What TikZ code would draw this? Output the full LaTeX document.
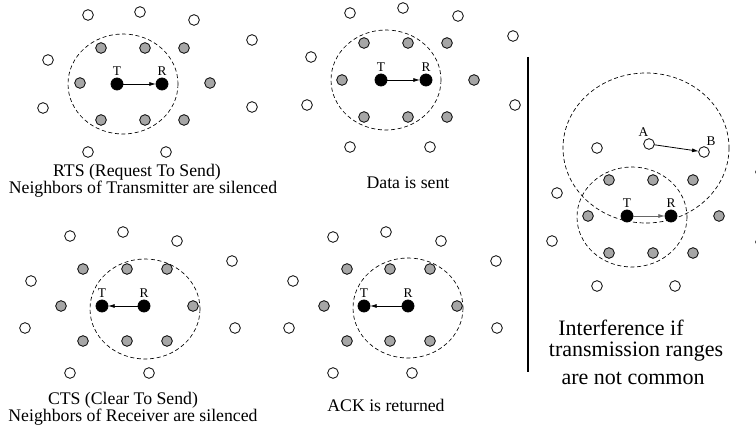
\documentclass[tikz,border=0pt]{standalone}
\usepackage{fontspec}
\setmainfont{Liberation Serif}
\usetikzlibrary{arrows.meta}

\begin{document}
\begin{tikzpicture}[x=0.75pt, y=-0.75pt, every node/.style={inner sep=0pt, outer sep=0pt},
        idle/.style={draw, circle, fill=white, minimum size=8pt, line width=0.6pt},
        quiet/.style={idle, fill=black!35},
        busy/.style={idle, fill=black, minimum size=9pt},
        ring/.style={line width=0.5pt, dash pattern=on 3pt off 2pt},
        link/.style={-{Latex[length=5pt, width=3pt]}, line width=0.6pt},
        tag/.style={font=\fontsize{10}{11}\selectfont, label distance=1.5pt},
        caption/.style={font=\fontsize{13.3}{15}\selectfont},
        note/.style={font=\fontsize{16.5}{18}\selectfont}]
        \clip (0, 0) rectangle (756, 427);

        % RTS
        \node[idle] (w1a) at (88, 15) {};
        \node[idle] (w1b) at (140, 12) {};
        \node[idle] (w1c) at (194, 20) {};
        \node[idle] (w1d) at (252, 40) {};
        \node[idle] (w1e) at (48, 60) {};
        \node[idle] (w1f) at (43, 108) {};
        \node[idle] (w1g) at (252, 107) {};
        \node[idle] (w1h) at (88, 152) {};
        \node[idle] (w1i) at (166, 152) {};
        \node[quiet] (g1a) at (101, 48) {};
        \node[quiet] (g1b) at (145, 48) {};
        \node[quiet] (g1c) at (184, 48) {};
        \node[quiet] (g1d) at (80, 83) {};
        \node[quiet] (g1e) at (210, 83) {};
        \node[quiet] (g1f) at (101, 120) {};
        \node[quiet] (g1g) at (145, 120) {};
        \node[quiet] (g1h) at (184, 120) {};
        \node[busy, label={[tag]above:T}] (t1) at (117, 84) {};
        \node[busy, label={[tag]above:R}] (r1) at (162, 84) {};
        \draw[ring] (123, 84) ellipse [x radius=55, y radius=50];
        \draw[link] (t1) -- (r1);
        \node[caption] (cap1a) at (137, 172) {RTS (Request To Send)};
        \node[caption] (cap1b) at (143, 189) {Neighbors of Transmitter are silenced};

        % data
        \node[idle] (w2a) at (350, 13) {};
        \node[idle] (w2b) at (403, 8) {};
        \node[idle] (w2c) at (458, 16) {};
        \node[idle] (w2d) at (513, 36) {};
        \node[idle] (w2e) at (311, 57) {};
        \node[idle] (w2f) at (307, 105) {};
        \node[idle] (w2g) at (515, 105) {};
        \node[idle] (w2h) at (350, 147) {};
        \node[idle] (w2i) at (430, 147) {};
        \node[quiet] (g2a) at (364, 43) {};
        \node[quiet] (g2b) at (408, 43) {};
        \node[quiet] (g2c) at (447, 43) {};
        \node[quiet] (g2d) at (342, 80) {};
        \node[quiet] (g2e) at (474, 80) {};
        \node[quiet] (g2f) at (364, 117) {};
        \node[quiet] (g2g) at (408, 117) {};
        \node[quiet] (g2h) at (447, 117) {};
        \node[busy, label={[tag]above:T}] (t2) at (381, 80) {};
        \node[busy, label={[tag]above:R}] (r2) at (426, 80) {};
        \draw[ring] (386, 80) ellipse [x radius=55, y radius=50];
        \draw[link] (t2) -- (r2);
        \node[caption] (cap2) at (408, 183) {Data is sent};

        % CTS
        \node[idle] (w3a) at (70, 236) {};
        \node[idle] (w3b) at (123, 232) {};
        \node[idle] (w3c) at (177, 241) {};
        \node[idle] (w3d) at (232, 261) {};
        \node[idle] (w3e) at (31, 281) {};
        \node[idle] (w3f) at (25, 328) {};
        \node[idle] (w3g) at (235, 328) {};
        \node[idle] (w3h) at (70, 373) {};
        \node[idle] (w3i) at (149, 373) {};
        \node[quiet] (g3a) at (83, 269) {};
        \node[quiet] (g3b) at (127, 269) {};
        \node[quiet] (g3c) at (167, 269) {};
        \node[quiet] (g3d) at (61, 306) {};
        \node[quiet] (g3e) at (193, 306) {};
        \node[quiet] (g3f) at (83, 341) {};
        \node[quiet] (g3g) at (127, 341) {};
        \node[quiet] (g3h) at (167, 341) {};
        \node[busy, label={[tag]above:T}] (t3) at (102, 306) {};
        \node[busy, label={[tag]above:R}] (r3) at (144, 306) {};
        \draw[ring] (145, 309) ellipse [x radius=55, y radius=50];
        \draw[link] (r3) -- (t3);
        \node[caption] (cap3a) at (123, 400) {CTS (Clear To Send)};
        \node[caption] (cap3b) at (133, 417) {Neighbors of Receiver are silenced};

        % ACK
        \node[idle] (w4a) at (333, 237) {};
        \node[idle] (w4b) at (386, 232) {};
        \node[idle] (w4c) at (441, 241) {};
        \node[idle] (w4d) at (496, 261) {};
        \node[idle] (w4e) at (293, 281) {};
        \node[idle] (w4f) at (289, 328) {};
        \node[idle] (w4g) at (497, 328) {};
        \node[idle] (w4h) at (333, 373) {};
        \node[idle] (w4i) at (412, 373) {};
        \node[quiet] (g4a) at (347, 269) {};
        \node[quiet] (g4b) at (390, 269) {};
        \node[quiet] (g4c) at (430, 269) {};
        \node[quiet] (g4d) at (324, 306) {};
        \node[quiet] (g4e) at (457, 306) {};
        \node[quiet] (g4f) at (347, 341) {};
        \node[quiet] (g4g) at (390, 341) {};
        \node[quiet] (g4h) at (430, 341) {};
        \node[busy, label={[tag]above:T}] (t4) at (364, 306) {};
        \node[busy, label={[tag]above:R}] (r4) at (408, 306) {};
        \draw[ring] (408, 308) ellipse [x radius=55, y radius=50];
        \draw[link] (r4) -- (t4);
        \node[caption] (cap4) at (386, 405) {ACK is returned};

        \draw[line width=1.4pt] (528, 57) -- (528, 372);

        % interference
        \node[idle] (w5a) at (597, 148) {};
        \node[idle] (w5b) at (557, 193) {};
        \node[idle] (w5c) at (552, 241) {};
        \node[idle] (w5d) at (597, 286) {};
        \node[idle] (w5e) at (675, 286) {};
        \node[idle] (w5f) at (761, 172) {};
        \node[idle] (w5g) at (761, 242) {};
        \node[idle, label={[tag]95:A}] (a5) at (649, 144) {};
        \node[idle, label={[tag]70:B}] (b5) at (704, 152) {};
        \node[quiet] (g5a) at (609, 180) {};
        \node[quiet] (g5b) at (653, 180) {};
        \node[quiet] (g5c) at (693, 180) {};
        \node[quiet] (g5d) at (588, 216) {};
        \node[quiet] (g5e) at (719, 216) {};
        \node[quiet] (g5f) at (609, 253) {};
        \node[quiet] (g5g) at (653, 253) {};
        \node[quiet] (g5h) at (693, 253) {};
        \node[busy, label={[tag]above:T}] (t5) at (627, 216) {};
        \node[busy, label={[tag]above:R}] (r5) at (671, 216) {};
        \draw[ring] (632, 217) ellipse [x radius=55, y radius=50];
        \draw[ring] (646, 148) ellipse [x radius=83, y radius=75];
        \draw[link] (a5) -- (b5);
        \draw[link, black!60] (t5) -- (r5);
        \node[note] (note1) at (621, 328) {Interference if};
        \node[note] (note2) at (636, 352) {transmission ranges};
        \node[note] (note3) at (633, 378) {are not common};
\end{tikzpicture}
\end{document}
